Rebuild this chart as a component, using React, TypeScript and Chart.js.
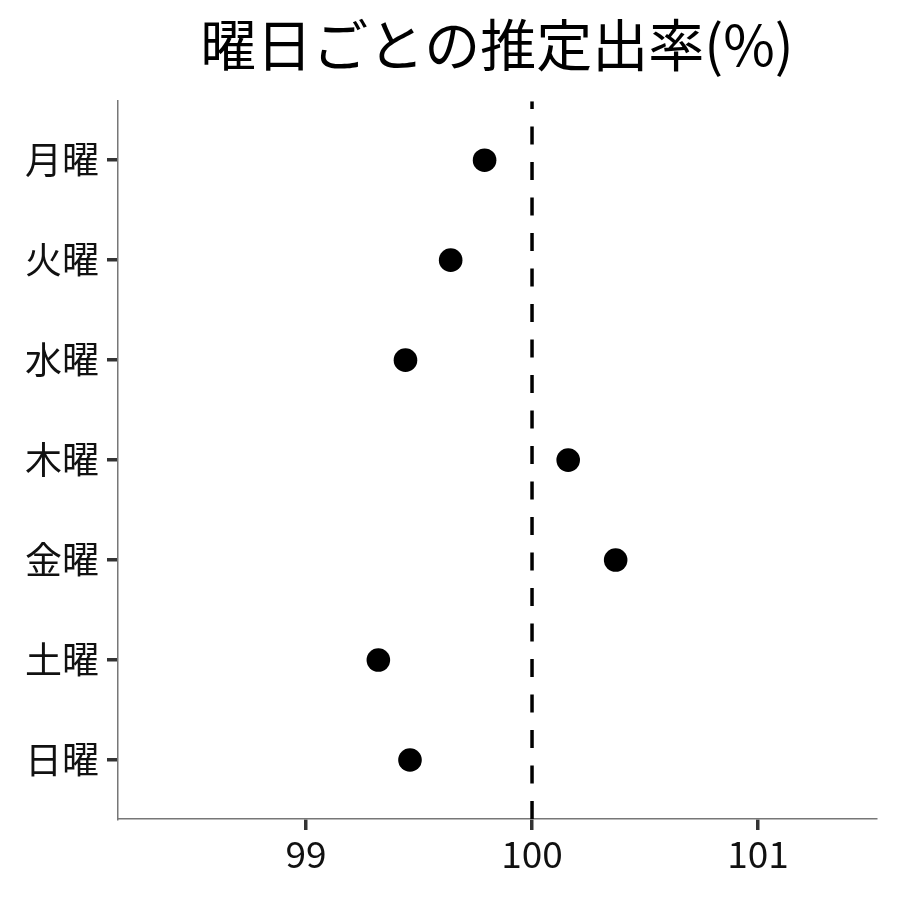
import React, { useEffect, useRef } from "react";
import { Chart, registerables } from "chart.js";

Chart.register(...registerables);

const days = ["月曜", "火曜", "水曜", "木曜", "金曜", "土曜", "日曜"];
const rates = [99.79, 99.64, 99.44, 100.16, 100.37, 99.32, 99.46];
const xTicks = [99, 100, 101];
const refValue = 100;
const xMin = 98.168;
const xMax = 101.522;
const yMin = -0.59;
const yMax = 6.59;
const titleText = "曜日ごとの推定出率(%)";

const FONT = "'Noto Sans CJK JP', 'Noto Sans', sans-serif";

export default function App() {
  const ref = useRef<HTMLCanvasElement | null>(null);

  useEffect(() => {
    document.body.style.margin = "0";
    const canvas = ref.current;
    if (!canvas) return;
    const gridOpts = {
      drawOnChartArea: false,
      drawTicks: true,
      tickLength: 11,
      lineWidth: 3.5,
      color: "#333",
      tickWidth: 3.5,
      tickColor: "#333",
    };
    const chart = new Chart(canvas, {
      type: "scatter",
      data: {
        datasets: [
          {
            type: "line",
            data: [
              { x: refValue, y: yMax },
              { x: refValue, y: yMin },
            ],
            borderColor: "#000",
            borderWidth: 3.5,
            borderDash: [18, 17.5],
            pointRadius: 0,
            fill: false,
            order: 2,
          },
          {
            type: "scatter",
            data: rates.map((v, i) => ({ x: v, y: i })),
            backgroundColor: "#000",
            borderColor: "#000",
            borderWidth: 0,
            pointRadius: 11.8,
            order: 1,
          },
        ],
      },
      options: {
        responsive: false,
        animation: false,
        devicePixelRatio: 1,
        layout: { padding: { left: 0, right: 24, top: 0, bottom: 0 } },
        plugins: {
          legend: { display: false },
          tooltip: { enabled: false },
          title: {
            display: true,
            text: titleText,
            fullSize: false,
            color: "#000",
            font: { family: FONT, size: 56, weight: "normal", lineHeight: 1.2 },
            padding: { top: 11, bottom: 23 },
          },
        },
        scales: {
          x: {
            type: "linear",
            min: xMin,
            max: xMax,
            afterBuildTicks: (scale: any) => {
              scale.ticks = xTicks.map((v) => ({ value: v }));
            },
            afterFit: (scale: any) => {
              scale.height = 81;
            },
            ticks: {
              color: "#111",
              font: { family: FONT, size: 37 },
              padding: 2,
              callback: (v: any) => String(v),
            },
            grid: gridOpts,
            border: { display: true, color: "#777", width: 1.5 },
          },
          y: {
            type: "linear",
            min: yMin,
            max: yMax,
            reverse: true,
            afterBuildTicks: (scale: any) => {
              scale.ticks = days.map((_, i) => ({ value: i }));
            },
            afterFit: (scale: any) => {
              scale.width = 118;
            },
            ticks: {
              color: "#111",
              font: { family: FONT, size: 37 },
              padding: 8,
              callback: (v: any) => days[Math.round(Number(v))] ?? "",
            },
            grid: gridOpts,
            border: { display: true, color: "#777", width: 1.5 },
          },
        },
      },
    });
    return () => chart.destroy();
  }, []);

  return <canvas ref={ref} width={900} height={900} style={{ display: "block" }} />;
}
